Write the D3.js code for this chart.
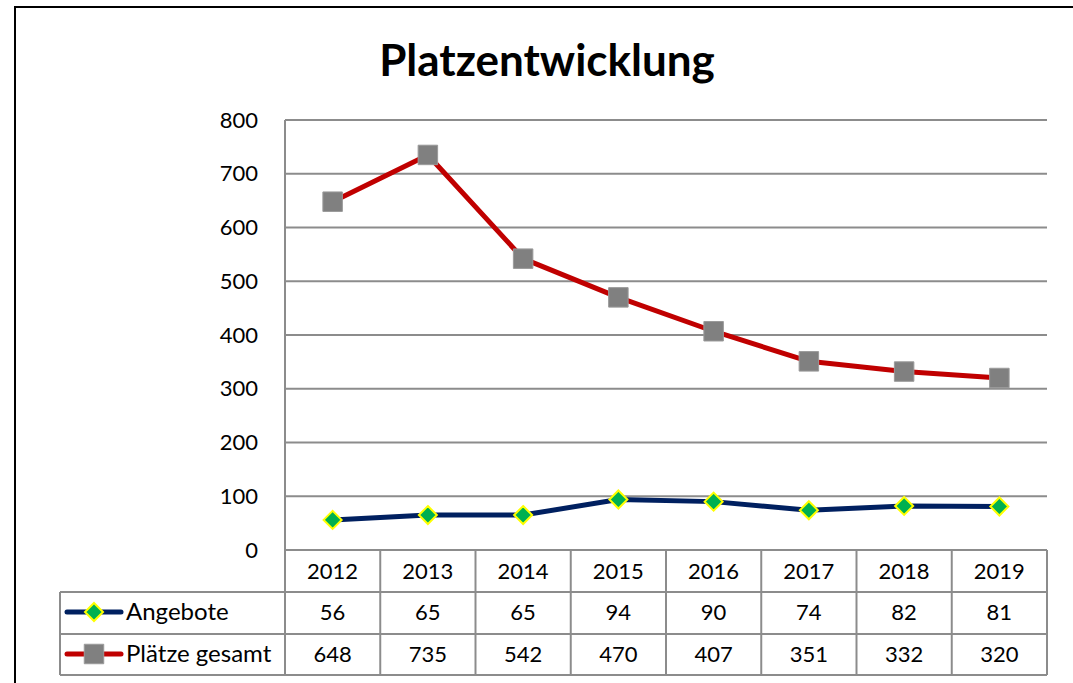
<!DOCTYPE html>
<html>
<head>
<meta charset="utf-8">
<script src="https://cdn.jsdelivr.net/npm/d3@7"></script>
<style>
  body { margin: 0; background: #fff; }
  text { font-family: Lato, "Liberation Sans", sans-serif; fill: #000; }
</style>
</head>
<body>
<svg id="chart" width="1073" height="683"></svg>
<script>
var years = ["2012", "2013", "2014", "2015", "2016", "2017", "2018", "2019"];
var angebote = [56, 65, 65, 94, 90, 74, 82, 81];
var plaetze = [648, 735, 542, 470, 407, 351, 332, 320];
var yTicks = [0, 100, 200, 300, 400, 500, 600, 700, 800];
var seriesNames = ["Angebote", "Plätze gesamt"];

var grid = "#8c8c8c";
var color = {"angebote": "#002060", "plaetze": "#c00000", "diamond": "#00b050", "diamondStroke": "#ffff00", "square": "#808080"};

var svg = d3.select("#chart");

// outer frame
svg.append("rect")
  .attr("x", 15).attr("y", 7)
  .attr("width", 1100).attr("height", 700)
  .attr("fill", "none").attr("stroke", "#000").attr("stroke-width", 2);

svg.append("text")
  .attr("x", 547).attr("y", 76)
  .attr("text-anchor", "middle")
  .style("font-size", "44px").style("font-weight", "bold")
  .text("Platzentwicklung");

var plotLeft = 285, plotRight = 1047, plotTop = 120, plotBottom = 550;

var x = d3.scaleBand().domain(years).range([plotLeft, plotRight]);
var y = d3.scaleLinear().domain([0, 800]).range([plotBottom, plotTop]);

// gridlines
svg.append("g").selectAll("line")
  .data(yTicks)
  .enter().append("line")
  .attr("x1", plotLeft).attr("x2", plotRight)
  .attr("y1", function(d) { return y(d); })
  .attr("y2", function(d) { return y(d); })
  .attr("stroke", grid).attr("stroke-width", 2);

// y axis line
svg.append("line")
  .attr("x1", plotLeft).attr("x2", plotLeft)
  .attr("y1", plotTop).attr("y2", plotBottom)
  .attr("stroke", grid).attr("stroke-width", 2);

// y labels
svg.append("g").selectAll("text")
  .data(yTicks)
  .enter().append("text")
  .attr("x", 258)
  .attr("y", function(d) { return y(d); })
  .attr("dy", "0.35em")
  .attr("text-anchor", "end")
  .style("font-size", "22px")
  .text(function(d) { return d; });

// data table
var rowBot = 675, legendLeft = 60;
var table = svg.append("g");

// horizontal lines
table.append("line").attr("x1", plotLeft).attr("x2", plotRight).attr("y1", 550).attr("y2", 550);
[592, 634, 675].forEach(function(yy) {
  table.append("line").attr("x1", legendLeft).attr("x2", plotRight).attr("y1", yy).attr("y2", yy);
});
// vertical lines
table.append("line").attr("x1", legendLeft).attr("x2", legendLeft).attr("y1", 592).attr("y2", rowBot);
years.forEach(function(yr) {
  table.append("line").attr("x1", x(yr) + x.bandwidth()).attr("x2", x(yr) + x.bandwidth()).attr("y1", 550).attr("y2", rowBot);
});
table.append("line").attr("x1", plotLeft).attr("x2", plotLeft).attr("y1", 550).attr("y2", rowBot);
table.selectAll("line").attr("stroke", grid).attr("stroke-width", 2);

function rowText(values, yy) {
  table.append("g").selectAll("text")
    .data(values)
    .enter().append("text")
    .attr("x", function(d, i) { return x(years[i]) + x.bandwidth() / 2; })
    .attr("y", yy)
    .attr("dy", "0.35em")
    .attr("text-anchor", "middle")
    .style("font-size", "22px")
    .text(function(d) { return d; });
}
rowText(years, 571);
rowText(angebote, 612);
rowText(plaetze, 654);

// lines
var line = d3.line()
  .x(function(d, i) { return x(years[i]) + x.bandwidth() / 2; })
  .y(function(d) { return y(d); });

svg.append("path").datum(plaetze)
  .attr("d", line).attr("fill", "none")
  .attr("stroke", color.plaetze).attr("stroke-width", 5).attr("stroke-linejoin", "round");

svg.append("path").datum(angebote)
  .attr("d", line).attr("fill", "none")
  .attr("stroke", color.angebote).attr("stroke-width", 5).attr("stroke-linejoin", "round");

var square = d3.symbol().type(d3.symbolSquare).size(380);
var diamond = function(s) {
  return "M0," + (-s) + "L" + s + ",0L0," + s + "L" + (-s) + ",0Z";
};

svg.append("g").selectAll("path")
  .data(plaetze)
  .enter().append("path")
  .attr("transform", function(d, i) { return "translate(" + (x(years[i]) + x.bandwidth() / 2) + "," + y(d) + ")"; })
  .attr("d", square)
  .attr("fill", color.square).attr("stroke", "#9a9a9a").attr("stroke-width", 1);

svg.append("g").selectAll("path")
  .data(angebote)
  .enter().append("path")
  .attr("transform", function(d, i) { return "translate(" + (x(years[i]) + x.bandwidth() / 2) + "," + y(d) + ")"; })
  .attr("d", diamond(9))
  .attr("fill", color.diamond).attr("stroke", color.diamondStroke).attr("stroke-width", 2);

// legend keys in table
var keys = [
  {name: seriesNames[0], yy: 612, stroke: color.angebote, marker: "diamond"},
  {name: seriesNames[1], yy: 654, stroke: color.plaetze, marker: "square"}
];
keys.forEach(function(k) {
  svg.append("line")
    .attr("x1", 67).attr("x2", 121)
    .attr("y1", k.yy).attr("y2", k.yy)
    .attr("stroke", k.stroke).attr("stroke-width", 5).attr("stroke-linecap", "round");
  if (k.marker == "diamond") {
    svg.append("path").attr("transform", "translate(94," + k.yy + ")")
      .attr("d", diamond(9))
      .attr("fill", color.diamond).attr("stroke", color.diamondStroke).attr("stroke-width", 2);
  } else {
    svg.append("path").attr("transform", "translate(94," + k.yy + ")")
      .attr("d", square)
      .attr("fill", color.square).attr("stroke", "#9a9a9a").attr("stroke-width", 1);
  }
  svg.append("text")
    .attr("x", 126).attr("y", k.yy)
    .attr("dy", "0.35em")
    .style("font-size", "24px")
    .text(k.name);
});
</script>
</body>
</html>
